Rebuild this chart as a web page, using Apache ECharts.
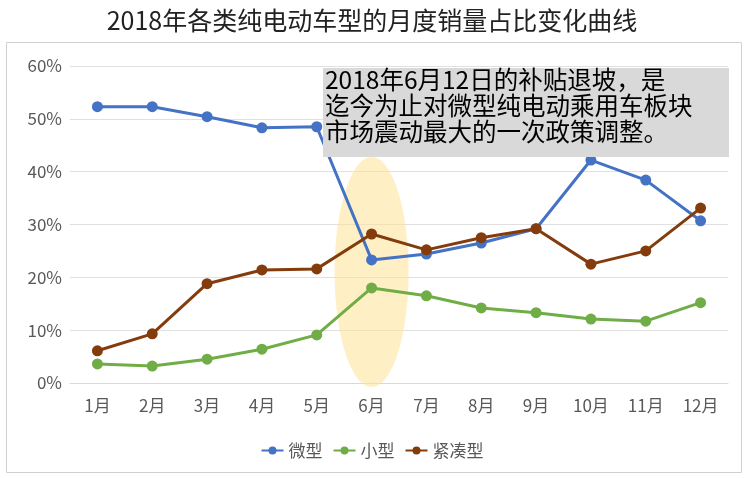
<!DOCTYPE html>
<html><head><meta charset="utf-8">
<script src="https://cdn.jsdelivr.net/npm/echarts@6.0.0/dist/echarts.min.js"></script>
<style>html,body{margin:0;padding:0;background:#fff}#c{width:744px;height:478px}</style>
</head><body><div id="c"></div>
<script>
const months = ["1月","2月","3月","4月","5月","6月","7月","8月","9月","10月","11月","12月"];
const micro = [52.3, 52.3, 50.4, 48.3, 48.5, 23.3, 24.4, 26.5, 29.2, 42.2, 38.4, 30.7];
const small = [3.6, 3.2, 4.5, 6.4, 9.1, 18.0, 16.5, 14.2, 13.3, 12.1, 11.7, 15.2];
const compact = [6.1, 9.3, 18.8, 21.4, 21.6, 28.2, 25.2, 27.5, 29.2, 22.5, 25.0, 33.1];
const FONT = "Noto Sans CJK SC";

const chart = echarts.init(document.getElementById("c"));
function line(name, data, color) {
  return { name, type: "line", data, color, symbol: "circle", symbolSize: 11,
    lineStyle: { width: 3 }, z: 5 };
}
chart.setOption({
  animation: false,
  textStyle: { fontFamily: FONT },
  title: { text: "2018年各类纯电动车型的月度销量占比变化曲线", left: "center", top: 3,
    textStyle: { fontSize: 25, fontWeight: "normal", color: "#222", fontFamily: FONT } },
  legend: { bottom: 14, itemWidth: 22, itemHeight: 10, itemGap: 10,
    textStyle: { fontSize: 17, color: "#595959" } },
  grid: { left: 70, right: 16, top: 66, bottom: 95 },
  xAxis: { type: "category", data: months,
    axisLine: { lineStyle: { color: "#d9d9d9" } }, axisTick: { show: false },
    axisLabel: { fontSize: 17, color: "#595959", margin: 14 } },
  yAxis: { type: "value", min: 0, max: 60, interval: 10,
    axisLabel: { formatter: "{value}%", fontSize: 17, color: "#595959" },
    splitLine: { lineStyle: { color: "#e0e0e0" } } },
  series: [line("微型", micro, "#4472C4"), line("小型", small, "#70AD47"), line("紧凑型", compact, "#843C0C")]
});
const c6 = chart.convertToPixel({ xAxisIndex: 0, yAxisIndex: 0 }, ["6月", 21]);
chart.setOption({ graphic: [
  { type: "rect", left: 4, top: 40, shape: { width: 735, height: 430 }, style: { fill: "none", stroke: "#d0d0d0" }, silent: true },
  { type: "ellipse", shape: { cx: c6[0], cy: c6[1], rx: 37, ry: 115 }, style: { fill: "rgba(253,226,150,0.55)" }, z: 1 },
  { type: "rect", shape: { x: 323, y: 68, width: 406, height: 89 }, style: { fill: "#d9d9d9" }, z: 10 },
  { type: "text", x: 325, y: 67, z: 11, style: { text: "2018年6月12日的补贴退坡，是\n迄今为止对微型纯电动乘用车板块\n市场震动最大的一次政策调整。",
    font: "24.5px '" + FONT + "'", lineHeight: 26, fill: "#000" } }
]});
</script></body></html>
